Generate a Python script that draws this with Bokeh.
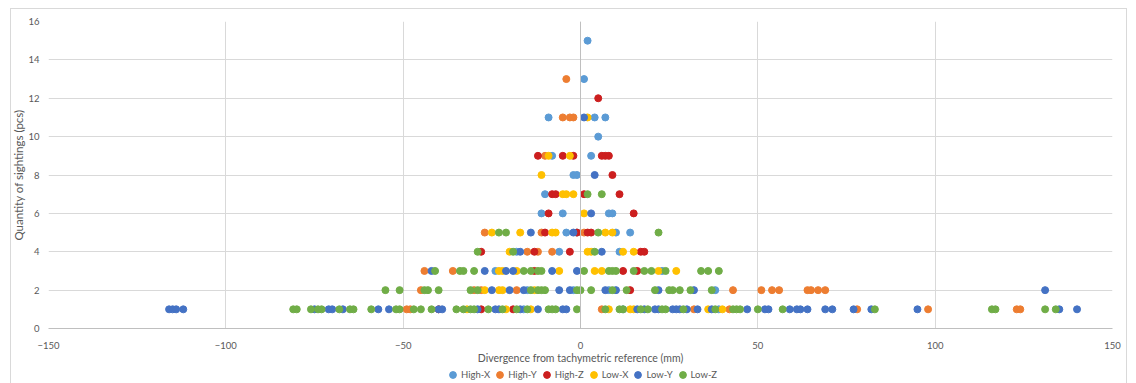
from bokeh.plotting import figure
from bokeh.layouts import column
from bokeh.models import Span, Legend, LegendItem, FixedTicker, Range1d
from bokeh.embed import file_html
from bokeh.resources import INLINE

# ---------------- data (divergence in mm, quantity of sightings) ----------------
high_x_div = [2, 1, -9, 4, 7, 5, -8, 3, -2, -1, -10, -11, -5, 8, 9, -4, -1, 10, 14,
              -18, -6, 11, -24, 23, -15, -2, 8, 38, -16, 12, 39]
high_x_cnt = [15, 13, 11, 11, 11, 10, 9, 9, 8, 8, 7, 6, 6, 6, 6, 5, 5, 5, 5,
              4, 4, 4, 3, 3, 2, 2, 2, 2, 1, 1, 1]

high_y_div = [-4, -5, -3, -2, -10, -27, -11, 1, -15, -12, -8, -44, -36,
              -45, -30, -28, -18, 43, 51, 54, 56, 64, 65, 67, 69,
              -49, -48, 6, 32, 42, 78, 98, 123, 124]
high_y_cnt = [13, 11, 11, 11, 9, 5, 5, 5, 4, 4, 4, 3, 3,
              2, 2, 2, 2, 2, 2, 2, 2, 2, 2, 2, 2,
              1, 1, 1, 1, 1, 1, 1, 1, 1]

high_z_div = [5, -12, -5, -2, 6, 7, 8, 9, -8, -7, 1, 11, -9, 15, -10, -1, 2, 3,
              -28, -13, -3, 17, 18, -13, 12, 16, 14, -40, -28, -19]
high_z_cnt = [12, 9, 9, 9, 9, 9, 9, 8, 7, 7, 7, 7, 6, 6, 5, 5, 5, 5,
              4, 4, 4, 4, 4, 3, 3, 3, 2, 1, 1, 1]

low_x_div = [2, -9, -3, -11, -5, -4, -2, 1, -25, -17, -8, -7, 7, 9,
             -20, 2, 3, 12, 15, -23, -22, -18, -6, 4, 6, 22, 27,
             -27, -23, -22, -13, -32, -21, -14, 8, 14, 15, 36, 40]
low_x_cnt = [11, 9, 9, 8, 7, 7, 7, 6, 5, 5, 5, 5, 5, 5,
             4, 4, 4, 4, 4, 3, 3, 3, 3, 3, 3, 3, 3,
             2, 2, 2, 2, 1, 1, 1, 1, 1, 1, 1, 1]

low_y_div = [1, 4, 3, -14, -2, -17, 6, -42, -27, -21, -19, -8, -1,
             -25, -20, -16, -6, -3, 7, 10, 22, 32, 131,
             -116, -115, -114, -112, -75, -71, -70, -67, -57, -54, -40, -39,
             -29, -24, -23, -17, -12, -5, -4, 16, 18, 21, 22, 26, 27, 28, 30, 33, 37,
             47, 52, 53, 59, 61, 62, 64, 69, 71, 77, 82, 95, 135, 140]
low_y_cnt = [11, 8, 6, 5, 5, 4, 4, 3, 3, 3, 3, 3, 3,
             2, 2, 2, 2, 2, 2, 2, 2, 2, 2,
             1, 1, 1, 1, 1, 1, 1, 1, 1, 1, 1, 1,
             1, 1, 1, 1, 1, 1, 1, 1, 1, 1, 1, 1, 1, 1, 1, 1, 1,
             1, 1, 1, 1, 1, 1, 1, 1, 1, 1, 1, 1, 1, 1]

low_z_div = [2, 6, -23, -21, 5, 22, -29, -19, 4,
             -41, -34, -33, -30, -16, -14, -12, -11, 1, 8, 9, 10, 15, 18, 20, 24, 34, 36, 39,
             -55, -51, -44, -43, -40, -31, -29, -14, -12, -11, -10, -1, 0, 3, 9, 13, 21, 25, 26, 28, 31, 37,
             -81, -80, -76, -74, -73, -68, -65, -64, -59, -52, -51, -47, -45, -42,
             -35, -33, -31, -30, -26, -22, -18, -15, -9, -8, -7, -1,
             7, 11, 12, 17, 19, 23, 24, 29, 38, 43, 44, 45, 50, 57, 83, 116, 117, 131, 134]
low_z_cnt = [7, 7, 5, 5, 5, 5, 4, 4, 4,
             3, 3, 3, 3, 3, 3, 3, 3, 3, 3, 3, 3, 3, 3, 3, 3, 3, 3, 3,
             2, 2, 2, 2, 2, 2, 2, 2, 2, 2, 2, 2, 2, 2, 2, 2, 2, 2, 2, 2, 2, 2,
             1, 1, 1, 1, 1, 1, 1, 1, 1, 1, 1, 1, 1, 1,
             1, 1, 1, 1, 1, 1, 1, 1, 1, 1, 1, 1,
             1, 1, 1, 1, 1, 1, 1, 1, 1, 1, 1, 1, 1, 1, 1, 1, 1, 1, 1]

series_names = ["High-X", "High-Y", "High-Z", "Low-X", "Low-Y", "Low-Z"]
x_ticks = [-150, -100, -50, 0, 50, 100, 150]
y_ticks = [0, 2, 4, 6, 8, 10, 12, 14, 16]

series = [
    (high_x_div, high_x_cnt, "#5B9BD5"),
    (high_y_div, high_y_cnt, "#ED7D31"),
    (high_z_div, high_z_cnt, "#CC1F1F"),
    (low_x_div, low_x_cnt, "#FFC000"),
    (low_y_div, low_y_cnt, "#4472C4"),
    (low_z_div, low_z_cnt, "#70AD47"),
]
for d, c, _ in series:
    assert len(d) == len(c)

FONT = "Lato"
TXT = "#595959"
GRID = "#d9d9d9"
LINE = "linear-gradient(#d9d9d9, #d9d9d9)"

# ---------------- main chart ----------------
p = figure(width=1128, height=366, output_backend="svg", toolbar_location=None,
           x_range=Range1d(-150, 150), y_range=Range1d(0, 16),
           min_border_left=48, min_border_right=16, min_border_top=21, min_border_bottom=32)
# faint outer chart-area border (left, top, right edges) painted behind the canvas
p.styles = {
    "background-image": f"{LINE}, {LINE}, {LINE}",
    "background-position": "10px 8px, 10px 8px, 1126px 8px",
    "background-size": "1px 100%, 1117px 1px, 1px 100%",
    "background-repeat": "no-repeat",
}
p.outline_line_color = None
p.background_fill_color = "white"
p.border_fill_color = None

p.xaxis.ticker = FixedTicker(ticks=x_ticks)
p.yaxis.ticker = FixedTicker(ticks=y_ticks)
p.xgrid.ticker = FixedTicker(ticks=x_ticks)
p.ygrid.ticker = FixedTicker(ticks=y_ticks)
p.xgrid.grid_line_color = GRID
p.ygrid.grid_line_color = GRID

for ax in (p.xaxis[0], p.yaxis[0]):
    ax.major_tick_line_color = None
    ax.minor_tick_line_color = None
    ax.major_label_text_font = FONT
    ax.major_label_text_font_size = "9.5px"
    ax.major_label_text_color = TXT
    ax.axis_label_text_font = FONT
    ax.axis_label_text_font_size = "10.5px"
    ax.axis_label_text_color = TXT
    ax.axis_label_text_font_style = "normal"

p.yaxis.axis_label_text_font_size = "11.5px"
p.xaxis.axis_line_color = "#bfbfbf"
p.yaxis.axis_line_color = None
p.xaxis.axis_label = "Divergence from tachymetric reference (mm)"
p.yaxis.axis_label = "Quantity of sightings (pcs)"
p.xaxis.major_label_standoff = 7
p.xaxis.axis_label_standoff = 0
p.yaxis.major_label_standoff = 3
p.yaxis.axis_label_standoff = 0

p.add_layout(Span(location=0, dimension="height", line_color="#bfbfbf", line_width=1))

for name, (d, c, col) in zip(series_names, series):
    p.scatter(d, c, size=7, marker="circle", fill_color=col, line_color=col)

# ---------------- legend strip (same series, data kept out of view) ----------------
lg = figure(width=1128, height=17, output_backend="svg", toolbar_location=None,
            x_axis_type=None, y_axis_type=None,
            x_range=Range1d(1000, 1001), y_range=Range1d(1000, 1001),
            min_border_left=0, min_border_right=0, min_border_top=0, min_border_bottom=0)
lg.styles = {
    "background-image": f"{LINE}, {LINE}",
    "background-position": "10px 0px, 1126px 0px",
    "background-size": "1px 100%, 1px 100%",
    "background-repeat": "no-repeat",
}
lg.outline_line_color = None
lg.background_fill_color = None
lg.border_fill_color = None
lg.xgrid.grid_line_color = None
lg.ygrid.grid_line_color = None

items = []
for name, (d, c, col) in zip(series_names, series):
    r = lg.scatter(d, c, size=7, marker="circle", fill_color=col, line_color=col)
    items.append(LegendItem(label=name, renderers=[r]))

legend = Legend(items=items, orientation="horizontal", location=(396, 0),
                glyph_width=17, glyph_height=17, label_standoff=-3, spacing=1,
                padding=0, margin=0, label_height=12,
                label_text_font=FONT, label_text_font_size="9.5px", label_text_color=TXT,
                border_line_color=None, background_fill_alpha=0)
lg.add_layout(legend, "center")

layout = column(p, lg, spacing=0)
open("out.html", "w").write(file_html(layout, INLINE))
